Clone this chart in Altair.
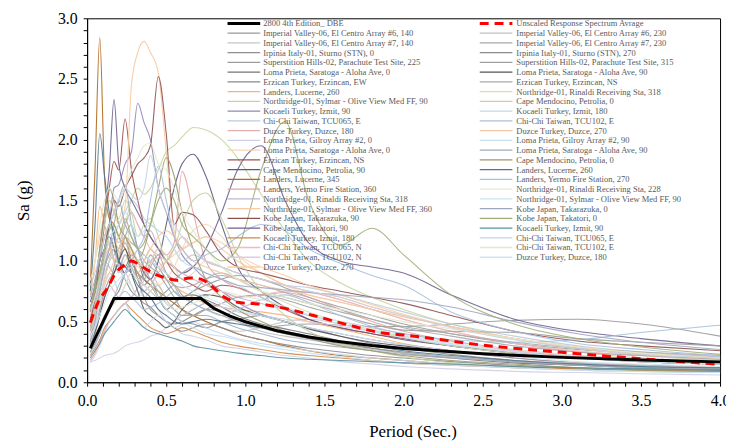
import altair as alt
import pandas as pd

# ---------------- data ----------------
periods = [0.02, 0.05, 0.08, 0.11, 0.14, 0.17, 0.2, 0.24, 0.28, 0.32, 0.36, 0.4, 0.45, 0.5, 0.55,
           0.6, 0.67, 0.75, 0.85, 0.95, 1.1, 1.25, 1.4, 1.6, 1.8, 2.0, 2.3, 2.7, 3.1, 3.5, 4.0]

dbe_T = [0.02, 0.17, 0.72, 0.8, 0.9, 1.0, 1.2, 1.4, 1.6, 1.8, 2.0, 2.5, 3.0, 3.5, 4.0]
dbe_Sa = [0.28, 0.69, 0.69, 0.61, 0.548, 0.499, 0.425, 0.373, 0.334, 0.303, 0.279, 0.235, 0.205, 0.184, 0.168]

avg_T = [0.02, 0.07, 0.13, 0.18, 0.23, 0.28, 0.35, 0.43, 0.5, 0.57, 0.65, 0.72, 0.78, 0.87, 0.95,
         1.12, 1.28, 1.43, 1.64, 1.85, 2.0, 2.5, 3.0, 3.5, 4.0]
avg_Sa = [0.49, 0.66, 0.78, 0.9, 0.96, 1.0, 0.95, 0.89, 0.86, 0.84, 0.86, 0.85, 0.8, 0.7, 0.66,
          0.64, 0.6, 0.55, 0.476, 0.41, 0.39, 0.306, 0.247, 0.194, 0.148]

left_names = [
    "2800 4th Edition_ DBE",
    "Imperial Valley-06, El Centro Array #6, 140",
    "Imperial Valley-06, El Centro Array #7, 140",
    "Irpinia Italy-01, Sturno (STN), 0",
    "Superstition Hills-02, Parachute Test Site, 225",
    "Loma Prieta, Saratoga - Aloha Ave, 0",
    "Erzican Turkey, Erzincan, EW",
    "Landers, Lucerne, 260",
    "Northridge-01, Sylmar - Olive View Med FF, 90",
    "Kocaeli Turkey, Izmit, 90",
    "Chi-Chi Taiwan, TCU065, E",
    "Duzce Turkey, Duzce, 180",
    "Loma Prieta, Gilroy Array #2, 0",
    "Loma Prieta, Saratoga - Aloha Ave, 0",
    "Erzican Turkey, Erzincan, NS",
    "Cape Mendocino, Petrolia, 90",
    "Landers, Lucerne, 345",
    "Landers, Yermo Fire Station, 360",
    "Northridge-01, Rinaldi Receiving Sta, 318",
    "Northridge-01, Sylmar - Olive View Med FF, 360",
    "Kobe Japan, Takarazuka, 90",
    "Kobe Japan, Takatori, 90",
    "Kocaeli Turkey, Izmit, 180",
    "Chi-Chi Taiwan, TCU065, N",
    "Chi-Chi Taiwan, TCU102, N",
    "Duzce Turkey, Duzce, 270",
]
right_names = [
    "Unscaled Response Spectrum Avrage",
    "Imperial Valley-06, El Centro Array #6, 230",
    "Imperial Valley-06, El Centro Array #7, 230",
    "Irpinia Italy-01, Sturno (STN), 270",
    "Superstition Hills-02, Parachute Test Site, 315",
    "Loma Prieta, Saratoga - Aloha Ave, 90",
    "Erzican Turkey, Erzincan, NS",
    "Northridge-01, Rinaldi Receiving Sta, 318",
    "Cape Mendocino, Petrolia, 0",
    "Kocaeli Turkey, Izmit, 180",
    "Chi-Chi Taiwan, TCU102, E",
    "Duzce Turkey, Duzce, 270",
    "Loma Prieta, Gilroy Array #2, 90",
    "Loma Prieta, Saratoga - Aloha Ave, 90",
    "Cape Mendocino, Petrolia, 0",
    "Landers, Lucerne, 260",
    "Landers, Yermo Fire Station, 270",
    "Northridge-01, Rinaldi Receiving Sta, 228",
    "Northridge-01, Sylmar - Olive View Med FF, 90",
    "Kobe Japan, Takarazuka, 0",
    "Kobe Japan, Takatori, 0",
    "Kocaeli Turkey, Izmit, 90",
    "Chi-Chi Taiwan, TCU065, E",
    "Chi-Chi Taiwan, TCU102, E",
    "Duzce Turkey, Duzce, 180",
]

left_colors = ["#9a9a9a", "#c6c6c6", "#8e8e8e", "#9c9c9c", "#747474", "#8a8a8a", "#f5b27a",
               "#c4d6a0", "#8f88b8", "#b8cce0", "#e6aeae", "#cfcfe6", "#f8d4b4", "#a0504f",
               "#605880", "#b0691f", "#e3a4a4", "#bdb5d6", "#f9c99f", "#8f4f4f", "#6f6090",
               "#cf8a44", "#efbcbc", "#d6cee6", "#fbcda5"]
right_colors = ["#c0c0c0", "#a8a8a8", "#8c8c8c", "#a0a0a0", "#555555", "#aaaaaa", "#d5ddb8",
                "#c5d1a0", "#c6d6ee", "#a9bfd8", "#f6c6a4", "#c6e0ef", "#9eacbe", "#9a9a6e",
                "#4f7890", "#a7bfdf", "#e4e9cb", "#c5e2ef", "#9fa7c0", "#9fae74", "#5a90a0",
                "#c7d3e3", "#e4e8d2", "#cde6f0"]

sa_L01 = [0.42,0.55,0.75,0.95,1.05, 1.1,0.95,0.9,1.0,0.85, 0.8,0.75,0.7,0.75,0.8, 0.72,0.65,0.6,0.55,0.5, 0.45,0.47,0.48,0.47,0.46, 0.46,0.48,0.51,0.52,0.48, 0.38]
sa_L02 = [0.34,0.45,0.6,0.8,0.9, 0.85,0.75,0.9,0.8,0.7, 0.85,0.9,0.8,0.7,0.65, 0.6,0.55,0.5,0.45,0.42, 0.45,0.5,0.52,0.48,0.42, 0.36,0.3,0.25,0.21,0.18, 0.15]
sa_L03 = [0.31,0.4,0.55,0.7,0.8, 0.95,1.1,1.2,1.0,0.9, 0.8,0.85,0.7,0.6,0.55, 0.5,0.48,0.45,0.5,0.52, 0.55,0.5,0.45,0.38,0.32, 0.28,0.23,0.18,0.15,0.13, 0.11]
sa_L04 = [0.43,0.55,0.7,0.85,1.0, 1.1,0.95,1.05,0.95,0.85, 0.9,1.05,0.95,0.85,0.75, 0.7,0.75,0.8,0.85,0.88, 0.85,0.78,0.7,0.62,0.55, 0.48,0.4,0.32,0.27,0.24, 0.21]
sa_L05 = [0.52,0.7,0.9,1.1,1.3, 1.25,1.0,0.95,1.05,1.0, 0.85,0.8,0.7,0.6,0.65, 0.7,0.72,0.68,0.62,0.55, 0.48,0.44,0.4,0.34,0.28, 0.24,0.2,0.16,0.14,0.12, 0.1]
sa_L06 = [0.5,0.65,0.85,1.05,1.2, 1.1,0.95,0.85,0.75,0.7, 0.65,0.62,0.55,0.5,0.48, 0.5,0.55,0.6,0.58,0.52, 0.45,0.4,0.36,0.32,0.28, 0.25,0.21,0.17,0.14,0.12, 0.1]
sa_L07 = [0.72,1.0,1.45,1.3,1.15, 1.0,1.05,1.2,1.1,0.9, 1.0,1.1,1.0,0.9,0.8, 0.75,0.7,0.65,0.62,0.6, 0.58,0.55,0.5,0.44,0.38, 0.32,0.26,0.2,0.16,0.14, 0.12]
sa_L08 = [0.6,0.75,1.0,1.2,1.3, 1.2,1.1,1.3,1.5,1.6, 1.55,1.6,1.75,1.9,1.95, 2.02,2.1,2.08,2.0,1.85, 1.55,1.25,1.0,0.82,0.7, 0.6,0.48,0.36,0.28,0.22, 0.18]
sa_L09 = [0.5,0.6,0.8,1.0,1.3, 1.6,1.63,1.8,1.9,2.3, 2.14,2.0,1.6,1.4,1.2, 1.05,0.95,0.85,0.75,0.66, 0.56,0.5,0.45,0.4,0.35, 0.31,0.26,0.2,0.16,0.14, 0.12]
sa_L10 = [0.6,0.7,0.85,1.0,1.1, 1.2,1.3,1.4,1.5,1.45, 1.35,1.3,1.25,1.2,1.1, 1.0,1.05,1.0,0.95,0.9, 0.85,0.8,0.78,0.72,0.65, 0.58,0.48,0.38,0.3,0.25, 0.21]
sa_L11 = [0.35,0.45,0.6,0.7,0.8, 0.75,0.7,0.8,0.9,0.85, 0.75,0.8,0.9,1.0,1.1, 1.2,1.1,1.0,0.95,0.9, 0.85,0.8,0.75,0.68,0.6, 0.52,0.42,0.32,0.25,0.2, 0.17]
sa_L12 = [0.37,0.55,0.8,1.0,1.2, 1.1,1.0,1.1,0.95,0.85, 0.75,0.7,0.6,0.5,0.45, 0.4,0.38,0.35,0.3,0.28, 0.25,0.22,0.2,0.17,0.15, 0.13,0.11,0.09,0.08,0.07, 0.06]
sa_L13 = [0.5,0.65,0.8,1.0,1.1, 1.0,0.95,1.0,1.1,1.0, 0.9,0.85,0.8,0.85,0.95, 1.1,1.25,1.3,1.2,1.05, 0.9,0.8,0.72,0.66,0.6, 0.54,0.46,0.36,0.28,0.23, 0.19]
sa_L14 = [0.5,0.7,1.0,1.3,1.6, 1.82,1.75,2.17,1.75,1.5, 1.3,1.2,1.1,1.0,0.9, 0.85,0.8,0.75,0.8,0.78, 0.7,0.6,0.52,0.45,0.4, 0.36,0.3,0.24,0.2,0.17, 0.15]
sa_L15 = [0.66,0.8,1.0,1.1,1.2, 1.1,1.0,0.9,0.95,1.0, 0.9,0.85,1.0,1.3,1.6, 1.8,1.88,1.7,1.3,0.95, 0.75,0.62,0.52,0.45,0.4, 0.35,0.3,0.24,0.2,0.17, 0.15]
sa_L16 = [0.8,1.75,2.84,1.7,1.35, 1.3,1.2,1.1,1.0,0.9, 0.85,0.8,0.75,0.7,0.65, 0.6,0.55,0.5,0.45,0.4, 0.35,0.3,0.26,0.22,0.2, 0.18,0.15,0.13,0.11,0.1, 0.09]
sa_L17 = [0.18,0.24,0.33,0.42,0.5, 0.55,0.6,0.65,0.7,0.78, 0.88,0.98,1.1,1.05,1.15, 1.74,1.4,1.0,0.85,0.78, 0.72,0.74,0.7,0.6,0.5, 0.42,0.34,0.26,0.21,0.18, 0.15]
sa_L18 = [0.45,0.55,0.75,0.95,1.1, 1.2,1.15,1.3,1.4,1.3, 1.2,1.25,1.1,1.0,0.95, 0.9,0.85,0.8,0.75,0.7, 0.65,0.6,0.55,0.5,0.45, 0.4,0.34,0.27,0.22,0.19, 0.16]
sa_L19 = [0.84,1.0,1.2,1.4,1.5, 1.4,1.3,1.45,2.45,2.72, 2.81,2.72,2.55,1.9,1.25, 1.1,1.15,1.2,1.1,1.0, 0.9,0.8,0.75,0.7,0.62, 0.55,0.46,0.36,0.28,0.23, 0.19]
sa_L20 = [0.6,0.75,0.9,1.1,1.3, 1.5,1.45,1.6,1.7,1.8, 1.85,1.95,2.52,2.05,1.3, 1.4,1.38,1.25,1.05,0.95, 0.9,0.85,0.8,0.75,0.7, 0.65,0.55,0.42,0.34,0.3, 0.26]
sa_L21 = [0.6,0.8,1.1,1.4,1.75, 2.33,1.8,1.6,1.5,1.4, 1.3,1.2,1.1,1.0,0.95, 0.9,0.95,1.1,1.4,1.75, 1.95,1.5,1.15,1.0,0.95, 0.9,0.72,0.52,0.42,0.36, 0.3]
sa_L22 = [0.22,0.28,0.35,0.45,0.5, 0.55,0.6,0.65,0.6,0.55, 0.5,0.45,0.42,0.4,0.42, 0.45,0.42,0.38,0.33,0.3, 0.27,0.24,0.22,0.2,0.18, 0.16,0.14,0.12,0.11,0.1, 0.09]
sa_L23 = [0.55,0.7,0.85,1.0,1.1, 1.15,1.2,1.3,1.4,1.3, 1.2,1.1,1.05,1.0,0.95, 0.9,0.85,0.8,0.75,0.7, 0.72,0.75,0.74,0.68,0.6, 0.52,0.42,0.32,0.26,0.22, 0.19]
sa_L24 = [0.17,0.18,0.2,0.22,0.23, 0.24,0.26,0.3,0.32,0.33, 0.35,0.38,0.4,0.45,0.5, 0.55,0.6,0.65,0.62,0.58, 0.55,0.52,0.5,0.46,0.42, 0.38,0.32,0.26,0.22,0.19, 0.17]
sa_L25 = [0.45,0.55,0.7,0.85,1.0, 1.1,1.2,1.15,1.1,1.0, 0.95,0.9,0.95,1.0,1.05, 1.1,1.15,1.2,1.15,1.05, 0.95,0.88,0.8,0.72,0.64, 0.56,0.46,0.36,0.29,0.24, 0.2]

sa_R01 = [0.44,0.6,0.9,1.05,1.15, 1.0,0.9,1.05,0.95,0.85, 0.7,0.75,0.8,0.68,0.6, 0.55,0.6,0.65,0.58,0.5, 0.42,0.38,0.35,0.31,0.27, 0.24,0.21,0.18,0.16,0.14, 0.12]
sa_R02 = [0.46,0.6,0.8,1.0,0.95, 0.9,1.0,1.15,1.0,0.9, 0.85,0.95,1.05,0.9,0.8, 0.7,0.75,0.85,0.9,0.85, 0.75,0.7,0.65,0.58,0.52, 0.46,0.4,0.33,0.28,0.25, 0.22]
sa_R03 = [0.25,0.32,0.4,0.55,0.6, 0.7,0.75,0.9,1.0,0.85, 0.7,0.6,0.55,0.5,0.45, 0.42,0.45,0.48,0.45,0.4, 0.35,0.31,0.28,0.25,0.22, 0.2,0.17,0.14,0.12,0.11, 0.1]
sa_R04 = [0.38,0.5,0.6,0.75,0.85, 0.9,1.0,1.2,1.3,1.1, 0.95,1.0,0.9,0.8,0.7, 0.6,0.55,0.6,0.65,0.7, 0.72,0.68,0.62,0.55,0.48, 0.43,0.42,0.41,0.36,0.33, 0.3]
sa_R05 = [0.32,0.42,0.55,0.7,0.8, 0.9,1.0,1.1,0.9,0.75, 0.6,0.55,0.5,0.45,0.5, 0.6,0.68,0.72,0.7,0.62, 0.55,0.5,0.44,0.38,0.33, 0.3,0.26,0.22,0.2,0.18, 0.16]
sa_R06 = [0.5,0.62,0.8,0.9,1.0, 1.05,1.1,1.2,1.15,1.1, 1.0,0.95,0.9,0.85,0.8, 0.78,0.8,0.85,0.88,0.85, 0.8,0.74,0.68,0.6,0.52, 0.45,0.38,0.3,0.25,0.22, 0.19]
sa_R07 = [0.5,0.6,0.8,1.0,1.15, 1.1,1.2,1.3,1.1,1.0, 0.95,1.0,1.1,1.05,0.95, 0.85,0.9,1.0,0.95,0.85, 0.75,0.66,0.58,0.5,0.43, 0.37,0.3,0.24,0.2,0.17, 0.15]
sa_R08 = [0.6,0.8,1.1,1.3,1.5, 1.4,1.35,1.5,1.4,1.2, 1.3,1.35,1.2,1.0,1.1, 1.3,1.5,1.56,1.35,1.05, 0.75,0.55,0.42,0.32,0.26, 0.21,0.16,0.12,0.1,0.09, 0.08]
sa_R09 = [0.16,0.22,0.3,0.4,0.5, 0.55,0.6,0.65,0.55,0.5, 0.45,0.5,0.55,0.5,0.45, 0.48,0.5,0.45,0.4,0.36, 0.32,0.29,0.26,0.23,0.2, 0.18,0.15,0.12,0.1,0.09, 0.08]
sa_R10 = [0.3,0.35,0.45,0.55,0.6, 0.65,0.7,0.75,0.7,0.65, 0.6,0.62,0.65,0.7,0.75, 0.7,0.65,0.6,0.55,0.6, 0.68,0.72,0.66,0.55,0.46, 0.4,0.35,0.33,0.35,0.41, 0.47]
sa_R11 = [0.42,0.5,0.65,0.8,0.9, 1.0,1.1,1.2,1.05,0.95, 1.0,1.1,1.2,1.25,1.2, 1.1,1.0,0.95,0.9,0.85, 0.8,0.76,0.72,0.66,0.6, 0.54,0.46,0.36,0.29,0.24, 0.2]
sa_R12 = [0.32,0.45,0.65,0.9,1.0, 1.05,0.95,0.85,0.8,0.7, 0.75,0.8,0.7,0.6,0.55, 0.5,0.45,0.4,0.38,0.35, 0.3,0.27,0.24,0.21,0.18, 0.16,0.14,0.12,0.1,0.09, 0.08]
sa_R13 = [0.33,0.5,0.75,0.95,1.1, 1.3,1.5,1.63,1.3,1.1, 0.95,0.85,0.75,0.65,0.6, 0.55,0.55,0.55,0.5,0.45, 0.4,0.35,0.32,0.29,0.26, 0.23,0.2,0.17,0.14,0.12, 0.11]
sa_R14 = [0.58,0.8,1.1,1.4,1.6, 1.5,1.3,1.2,1.1,1.0, 1.1,1.3,1.6,1.85,1.7, 1.4,1.1,0.85,0.7,0.6, 0.5,0.42,0.36,0.3,0.26, 0.22,0.18,0.15,0.12,0.1, 0.09]
sa_R15 = [0.75,1.3,2.05,1.7,1.4, 1.2,1.0,0.95,0.9,0.8, 0.75,0.7,0.6,0.55,0.5, 0.48,0.5,0.52,0.5,0.48, 0.45,0.42,0.38,0.34,0.3, 0.26,0.22,0.18,0.15,0.13, 0.12]
sa_R16 = [0.24,0.3,0.4,0.5,0.6, 0.7,0.8,0.9,1.0,1.1, 1.2,1.5,1.78,1.5,1.2, 1.1,1.0,1.05,1.1,1.2, 1.3,1.25,1.1,0.98,0.88, 0.8,0.58,0.42,0.32,0.27, 0.22]
sa_R17 = [0.84,1.0,1.3,1.5,1.6, 1.55,1.5,1.6,1.75,1.85, 1.95,1.97,1.8,1.75,1.6, 1.4,1.25,1.1,0.95,0.85, 0.75,0.7,0.65,0.6,0.55, 0.5,0.44,0.36,0.29,0.24, 0.2]
sa_R18 = [0.6,0.7,0.9,1.1,1.2, 1.25,1.3,1.4,1.3,1.2, 1.25,1.3,1.25,1.2,1.1, 1.0,0.95,0.9,0.85,0.8, 0.7,0.62,0.55,0.48,0.42, 0.37,0.31,0.25,0.2,0.17, 0.15]
sa_R19 = [0.7,0.85,1.0,1.2,1.3, 1.4,1.5,1.3,1.2,1.1, 1.05,1.0,0.95,0.9,0.85, 0.9,0.95,0.9,0.85,0.8, 0.78,0.76,0.74,0.72,0.7, 0.68,0.62,0.5,0.4,0.33, 0.27]
sa_R20 = [0.62,0.75,0.9,1.1,1.25, 1.3,1.2,1.35,1.2,1.1, 1.15,1.3,1.5,1.6,1.5, 1.3,1.2,1.1,1.0,1.1, 1.75,2.15,1.5,1.13,1.27, 1.05,0.72,0.48,0.36,0.29, 0.23]
sa_R21 = [0.2,0.26,0.32,0.4,0.45, 0.5,0.55,0.6,0.55,0.5, 0.45,0.42,0.4,0.38,0.36, 0.34,0.3,0.28,0.26,0.24, 0.22,0.2,0.19,0.18,0.17, 0.16,0.15,0.13,0.12,0.11, 0.1]
sa_R22 = [0.8,0.9,1.05,1.2,1.3, 1.4,1.5,1.6,1.55,1.5, 1.6,1.87,1.6,1.4,1.3, 1.2,1.1,1.0,0.95,0.9, 0.85,0.8,0.75,0.7,0.62, 0.55,0.45,0.35,0.28,0.23, 0.2]
sa_R23 = [0.3,0.35,0.45,0.55,0.6, 0.65,0.7,0.8,0.9,0.85, 0.8,0.75,0.7,0.65,0.6, 0.62,0.65,0.7,0.75,0.72, 0.68,0.62,0.56,0.5,0.44, 0.39,0.33,0.27,0.22,0.19, 0.16]
sa_R24 = [0.38,0.45,0.55,0.65,0.75, 0.8,0.85,0.9,0.95,1.0, 1.05,1.0,0.95,0.9,0.85, 0.8,0.75,0.7,0.65,0.6, 0.55,0.5,0.45,0.4,0.35, 0.31,0.26,0.21,0.17,0.15, 0.13]

left_series = [sa_L01, sa_L02, sa_L03, sa_L04, sa_L05, sa_L06, sa_L07, sa_L08, sa_L09, sa_L10,
               sa_L11, sa_L12, sa_L13, sa_L14, sa_L15, sa_L16, sa_L17, sa_L18, sa_L19, sa_L20,
               sa_L21, sa_L22, sa_L23, sa_L24, sa_L25]
right_series = [sa_R01, sa_R02, sa_R03, sa_R04, sa_R05, sa_R06, sa_R07, sa_R08, sa_R09, sa_R10,
                sa_R11, sa_R12, sa_R13, sa_R14, sa_R15, sa_R16, sa_R17, sa_R18, sa_R19, sa_R20,
                sa_R21, sa_R22, sa_R23, sa_R24]

y_ticks = [0.0, 0.1, 0.2, 0.3, 0.4, 0.5, 0.6, 0.7, 0.8, 0.9, 1.0, 1.1, 1.2, 1.3, 1.4, 1.5,
           1.6, 1.7, 1.8, 1.9, 2.0, 2.1, 2.2, 2.3, 2.4, 2.5, 2.6, 2.7, 2.8, 2.9, 3.0]
x_ticks = [0.0, 0.1, 0.2, 0.3, 0.4, 0.5, 0.6, 0.7, 0.8, 0.9, 1.0, 1.1, 1.2, 1.3, 1.4, 1.5, 1.6,
           1.7, 1.8, 1.9, 2.0, 2.1, 2.2, 2.3, 2.4, 2.5, 2.6, 2.7, 2.8, 2.9, 3.0, 3.1, 3.2, 3.3,
           3.4, 3.5, 3.6, 3.7, 3.8, 3.9, 4.0]

# ---------------- tables ----------------
ids, cols = [], []
rows = []
for i, vals in enumerate(left_series):
    sid = f"L{i + 1:02d}"
    ids.append(sid)
    cols.append(left_colors[i])
    rows += [{"T": t, "Sa": v, "id": sid} for t, v in zip(periods, vals)]
for j, vals in enumerate(right_series):
    sid = f"R{j + 1:02d}"
    ids.append(sid)
    cols.append(right_colors[j])
    rows += [{"T": t, "Sa": v, "id": sid} for t, v in zip(periods, vals)]
motions = pd.DataFrame(rows)
dbe = pd.DataFrame({"T": dbe_T, "Sa": dbe_Sa})
avg = pd.DataFrame({"T": avg_T, "Sa": avg_Sa})

# legend layout (page pixels -> plot units)
W, H = 640, 368
PLOT_LEFT, PLOT_TOP = 88, 16
def px_to_T(px):
    return (px - PLOT_LEFT) / (W / 4.0)
def row_to_Sa(i):
    y = 21.2 + 9.85 * i
    return 3.0 - (y - PLOT_TOP) / (H / 3.0)

leg_rows = []
for i, name in enumerate(left_names):
    leg_rows.append({"label": name, "id": f"L{i:02d}", "T": px_to_T(230), "T2": px_to_T(263),
                     "tx": px_to_T(266), "Sa": row_to_Sa(i)})
for j, name in enumerate(right_names):
    leg_rows.append({"label": name, "id": f"R{j:02d}", "T": px_to_T(485), "T2": px_to_T(518),
                     "tx": px_to_T(522), "Sa": row_to_Sa(j)})
legend = pd.DataFrame(leg_rows)
leg_motion = legend[~legend["id"].isin(["L00", "R00"])]
leg_dbe = legend[legend["id"] == "L00"]
leg_avg = legend[legend["id"] == "R00"]

FONT = "Liberation Serif"
xs = alt.Scale(domain=[0, 4], nice=False, zero=False)
ys = alt.Scale(domain=[0, 3], nice=False, zero=False)
major = "(round(datum.value * 10) % 5 == 0)"

y_axis = alt.Axis(values=y_ticks, labelExpr=f"{major} ? datum.label : ''", labelOverlap=False,
                  format=".1f", tickSize=4, labelFont=FONT, labelFontSize=16, labelColor="black",
                  labelPadding=6, tickColor="black", domainColor="black",
                  title="Sa (g)", titleFont=FONT, titleFontSize=17, titleFontWeight="normal",
                  titleColor="black", titleX=-64, titleY=H / 2, titleAngle=270,
                  titleAlign="center", titleBaseline="middle")
x_axis = alt.Axis(values=x_ticks, labelExpr=f"{major} ? datum.label : ''", labelOverlap=False,
                  format=".1f", tickSize=4, labelFont=FONT, labelFontSize=16,
                  labelColor="black", labelPadding=6, labelFlush=False,
                  tickColor="black", domainColor="black", title="Period (Sec.)", titleFont=FONT,
                  titleFontSize=17, titleFontWeight="normal", titleColor="black", titleX=329,
                  titleY=50, titleAlign="center", titleBaseline="middle")


def X(field):
    return alt.X(field, scale=xs, axis=x_axis)


def Y(field):
    return alt.Y(field, scale=ys, axis=y_axis)


color = alt.Color("id:N", scale=alt.Scale(domain=ids, range=cols), legend=None)

lines = alt.Chart(motions).mark_line(strokeWidth=1.1, opacity=0.9, interpolate="monotone").encode(
    x=X("T:Q"), y=Y("Sa:Q"), color=color)
avg_line = alt.Chart(avg).mark_line(color="#ff0000", strokeWidth=3, strokeDash=[9, 6],
                                    interpolate="monotone").encode(x=X("T:Q"), y=Y("Sa:Q"))
dbe_line = alt.Chart(dbe).mark_line(color="black", strokeWidth=3).encode(x=X("T:Q"), y=Y("Sa:Q"))

leg_lines = alt.Chart(leg_motion).mark_rule(strokeWidth=1.3).encode(
    x=X("T:Q"), x2="T2:Q", y=Y("Sa:Q"), color=color)
leg_dbe_line = alt.Chart(leg_dbe).mark_rule(strokeWidth=3, color="black").encode(
    x=X("T:Q"), x2="T2:Q", y=Y("Sa:Q"))
leg_avg_line = alt.Chart(leg_avg).mark_rule(strokeWidth=3, color="#ff0000", strokeDash=[9, 6]).encode(
    x=X("T:Q"), x2="T2:Q", y=Y("Sa:Q"))
leg_text = alt.Chart(legend).mark_text(align="left", baseline="middle", font=FONT, fontSize=8.6,
                                       color="#5a5a5a").encode(
    x=X("tx:Q"), y=Y("Sa:Q"), text="label:N")

chart = alt.layer(lines, avg_line, dbe_line, leg_lines, leg_dbe_line, leg_avg_line, leg_text).properties(
    width=W, height=H,
    autosize=alt.AutoSizeParams(type="none"),
    padding={"left": 80, "top": 8, "right": 6, "bottom": 60},
).configure_view(stroke="black", strokeWidth=1).configure_axis(grid=False)

chart.save("out.html", embed_options={"renderer": "svg", "actions": False})
